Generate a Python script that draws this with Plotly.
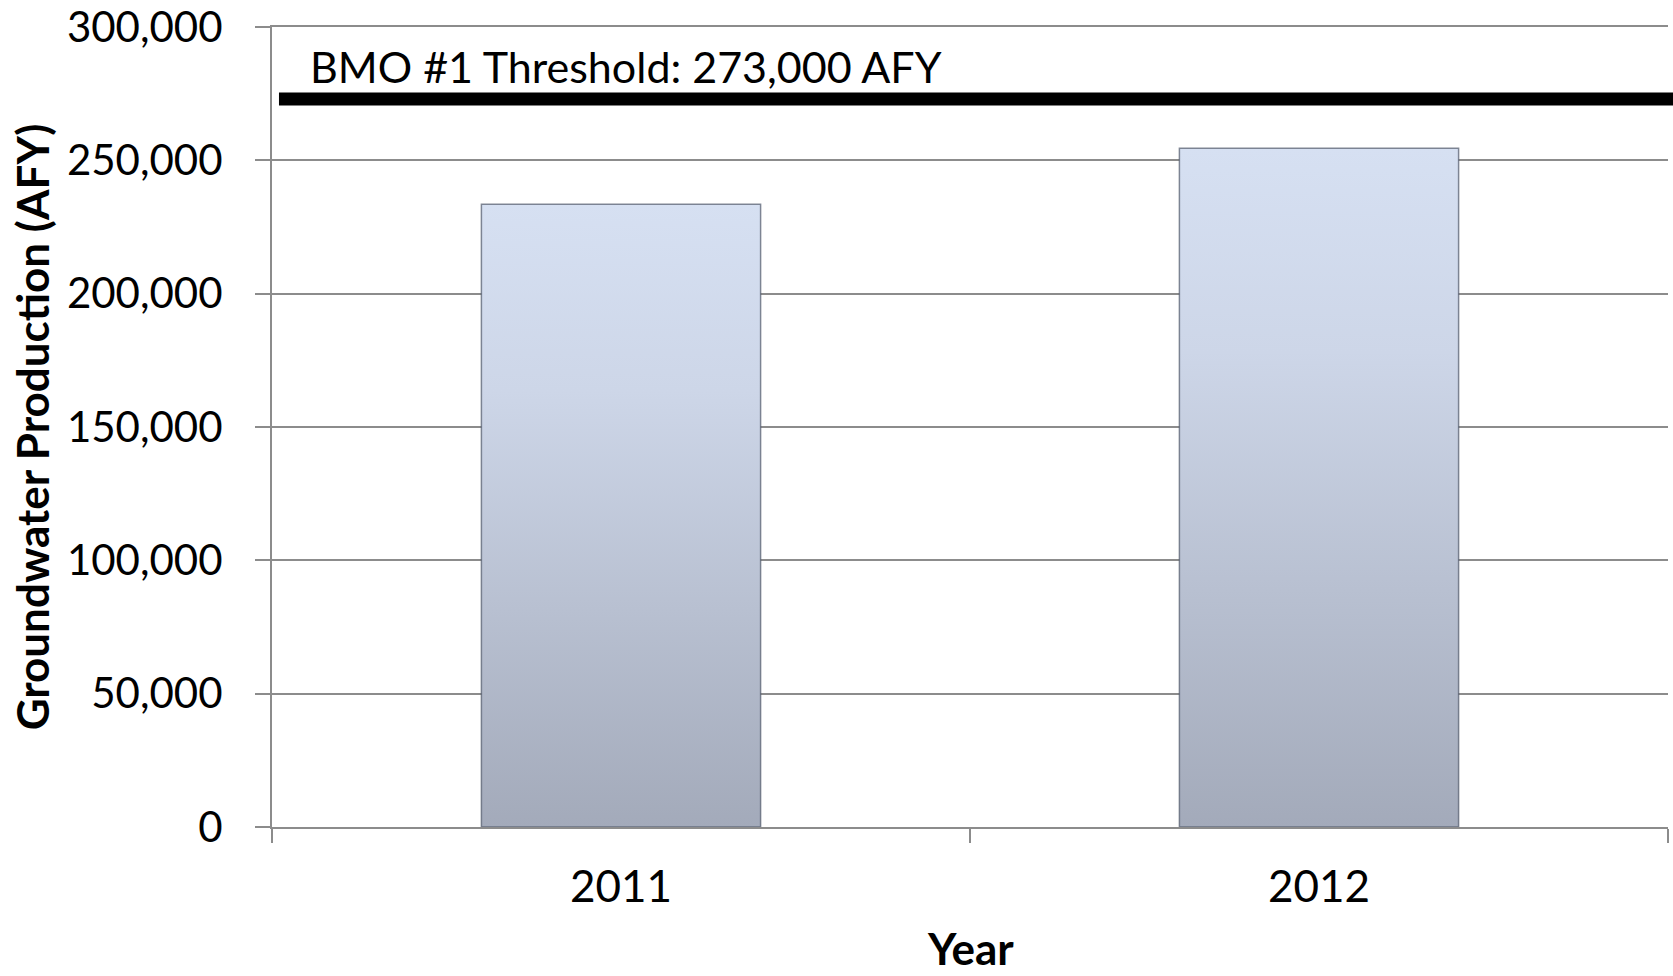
import plotly.graph_objects as go

years = ["2011", "2012"]
production = [233500, 254500]
threshold = 273000
threshold_label = "BMO #1 Threshold: 273,000 AFY"
y_ticks = [0, 50000, 100000, 150000, 200000, 250000, 300000]
y_tick_text = ["0", "50,000", "100,000", "150,000", "200,000", "250,000", "300,000"]

FONT = "Lato"

fig = go.Figure()
fig.add_trace(go.Bar(
    x=years, y=production, width=0.4,
    marker=dict(color="#bcc5d7", line=dict(color="rgba(80,88,105,0.7)", width=1.5)),
    hoverinfo="skip",
))

fig.add_shape(type="line", xref="paper", yref="y", x0=0.005, x1=1.01,
              y0=threshold, y1=threshold, line=dict(color="black", width=13))
fig.add_annotation(xref="paper", yref="y", x=0.026, y=threshold, yanchor="bottom",
                   xanchor="left", yshift=5, text=threshold_label, showarrow=False,
                   font=dict(family=FONT, size=43, color="black"))
fig.add_annotation(xref="paper", yref="paper", x=0.5, y=0, yanchor="middle",
                   xanchor="center", yshift=-121, text="<b>Year</b>", showarrow=False,
                   borderpad=0, font=dict(family=FONT, size=44, color="black"))

fig.update_layout(
    width=1673, height=976,
    margin=dict(l=272, r=5, t=27, b=149, autoexpand=False),
    plot_bgcolor="white", paper_bgcolor="white",
    showlegend=False,
    font=dict(family=FONT, color="black"),
)
fig.update_xaxes(
    type="category", tickson="boundaries", ticks="outside", ticklen=14, tickwidth=1.5,
    tickcolor="#8c8c8c", showline=True, linecolor="#8c8c8c", linewidth=2, mirror=True,
    tickfont=dict(size=44, family=FONT), showgrid=False, ticklabelstandoff=20,
    automargin=False,
)
fig.update_yaxes(
    range=[0, 300000], tickvals=y_ticks, ticktext=y_tick_text,
    ticks="outside", ticklen=15, tickwidth=2, tickcolor="#8c8c8c",
    showline=True, linecolor="#8c8c8c", linewidth=2,
    showgrid=True, gridcolor="#8c8c8c", gridwidth=2, zeroline=False,
    tickfont=dict(size=42, family=FONT), ticklabelstandoff=24,
    title=dict(text="<b>Groundwater Production (AFY)</b>", font=dict(size=44, family=FONT), standoff=3),
    automargin=False, ticklabeloverflow="allow",
)

post = """
var gd = document.getElementById('{plot_id}');
function applyGrad(){
  var svg = gd.querySelector('svg.main-svg');
  var ns = 'http://www.w3.org/2000/svg';
  var defs = svg.querySelector('defs');
  if (!document.getElementById('bargrad')) {
    var lg = document.createElementNS(ns, 'linearGradient');
    lg.setAttribute('id', 'bargrad');
    lg.setAttribute('x1', '0'); lg.setAttribute('y1', '0');
    lg.setAttribute('x2', '0'); lg.setAttribute('y2', '1');
    [['0', '#d6e0f2'], ['0.3', '#cdd6e8'], ['1', '#a3aaba']].forEach(function(s){
      var st = document.createElementNS(ns, 'stop');
      st.setAttribute('offset', s[0]); st.setAttribute('stop-color', s[1]);
      lg.appendChild(st);
    });
    defs.appendChild(lg);
  }
  gd.querySelectorAll('.bars .point path').forEach(function(p){ p.style.fill = 'url(#bargrad)'; });
}
applyGrad();
gd.on('plotly_afterplot', applyGrad);
"""
fig.write_html("out.html", post_script=post, config={"displayModeBar": False})
